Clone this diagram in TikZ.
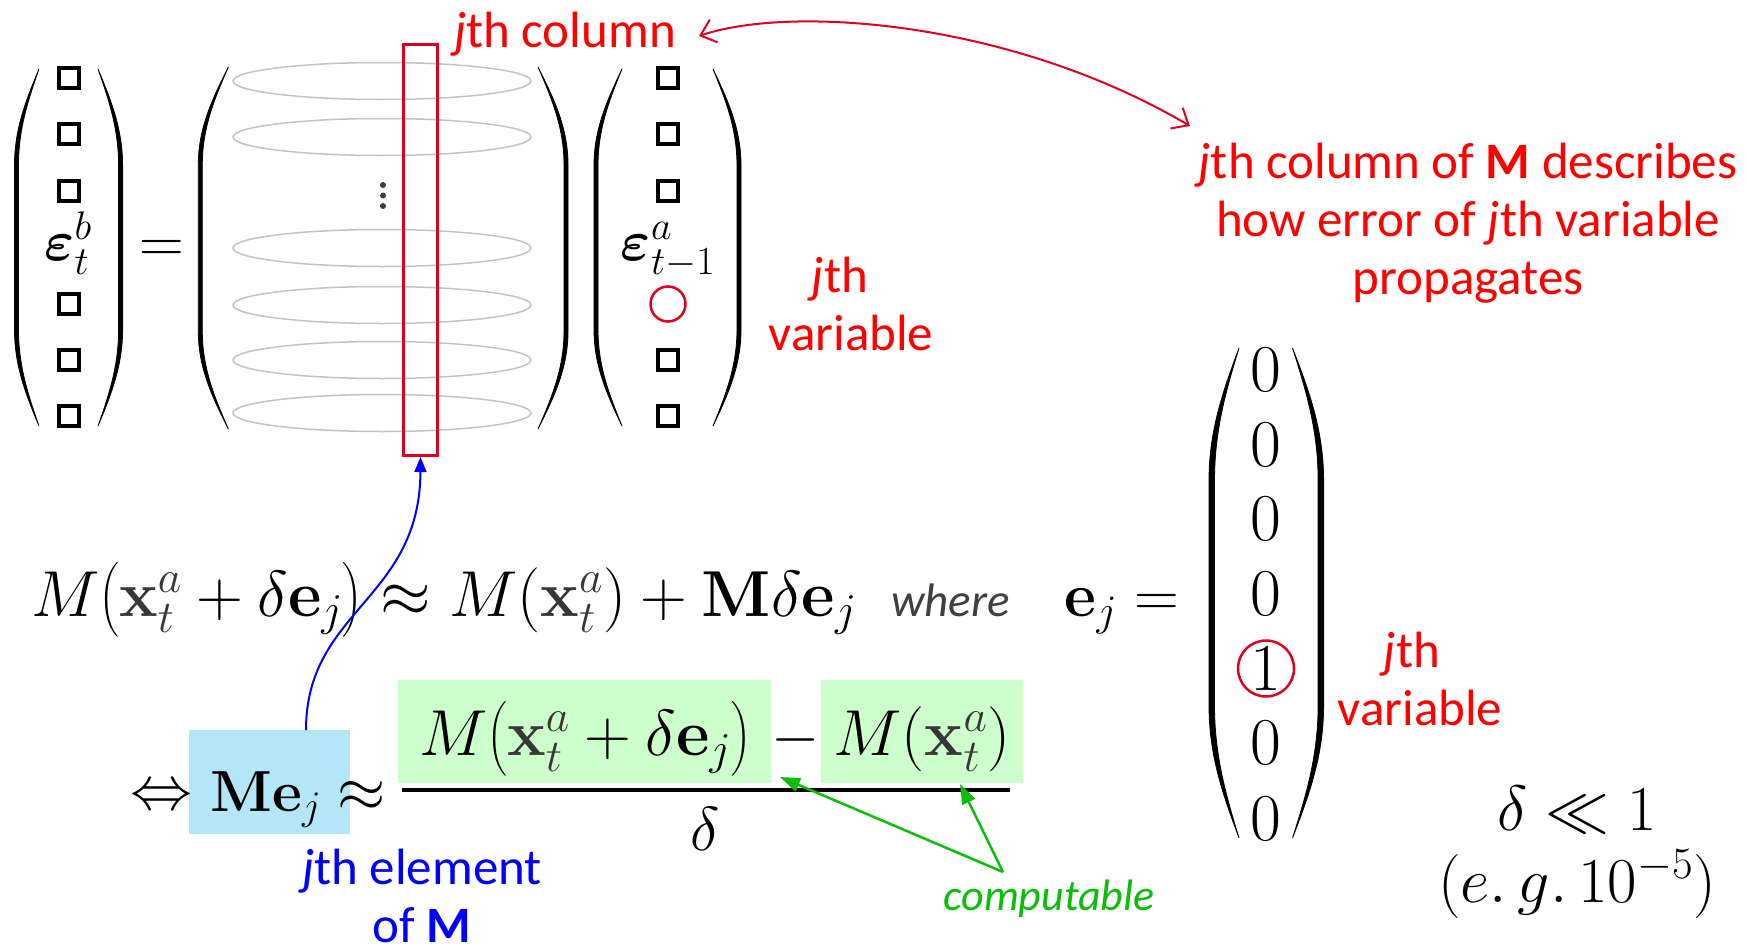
\RequirePackage{fix-cm}
\documentclass[tikz,border=0pt]{standalone}
\usepackage{amsmath}
\usepackage{bm}
\usepackage[no-math]{fontspec}
\setmainfont{Carlito}
\usetikzlibrary{arrows.meta}
\definecolor{myred}{RGB}{222,0,32}
\definecolor{txtred}{RGB}{255,0,0}
\definecolor{myblue}{RGB}{0,0,255}
\definecolor{mygreen}{RGB}{10,190,10}
\definecolor{lgreen}{RGB}{204,255,204}
\definecolor{lblue}{RGB}{179,231,248}
\definecolor{ellgray}{RGB}{195,195,195}
\definecolor{wgray}{RGB}{64,64,64}
\definecolor{dotgray}{RGB}{60,60,60}
\definecolor{xgray}{RGB}{55,55,55}
\newcommand{\xa}{{\color{xgray}\mathbf{x}_t^a}}
% #1 end x, #2 outer middle x, #3 top y, #4 bottom y, #5 signed thickness
\newcommand{\drawparen}[5]{%
\fill[draw, line width=0.8pt]
 (#1,#3) .. controls ({#1+0.55*(#2-#1)},{#3+0.09*(#4-#3)}) and (#2,{#3+0.17*(#4-#3)}) .. (#2,{#3+0.27*(#4-#3)})
 -- (#2,{#4-0.27*(#4-#3)}) .. controls (#2,{#4-0.17*(#4-#3)}) and ({#1+0.55*(#2-#1)},{#4-0.09*(#4-#3)}) .. (#1,#4)
 .. controls ({#1+0.55*(#2+#5-#1)},{#4-0.09*(#4-#3)}) and ({#2+#5},{#4-0.17*(#4-#3)}) .. ({#2+#5},{#4-0.27*(#4-#3)})
 -- ({#2+#5},{#3+0.27*(#4-#3)}) .. controls ({#2+#5},{#3+0.17*(#4-#3)}) and ({#1+0.55*(#2+#5-#1)},{#3+0.09*(#4-#3)}) .. (#1,#3) -- cycle;}
\begin{document}
\begin{tikzpicture}[x=1pt,y=-1pt,
  lbl/.style={font=\fontsize{51}{58}\selectfont, inner sep=0pt, align=center, text=txtred},
  mth/.style={font=\fontsize{62}{72}\selectfont, inner sep=0pt},
  bigmth/.style={font=\fontsize{65}{74}\selectfont, inner sep=0pt},
  epsfont/.style={font=\fontsize{57}{64}\selectfont, inner sep=0pt},
  sq/.style={draw, line width=3.2pt, minimum size=20pt, inner sep=0pt},
  ell/.style={draw=ellgray, line width=1.5pt},
  redmark/.style={draw=myred, line width=2.5pt, circle, inner sep=0pt},
  redarrow/.style={draw=myred, line width=2pt, {Straight Barb[length=14pt,width=24pt]}-{Straight Barb[length=14pt,width=24pt]}},
  bluearrow/.style={draw=myblue, line width=2pt, -{Triangle[length=15pt,width=12pt]}},
  greenarrow/.style={draw=mygreen, line width=2.5pt, -{Triangle[length=20pt,width=14pt]}}]
\useasboundingbox (0,0) rectangle (1747,950);

% ---------- top: left vector ----------
\drawparen{39}{14.5}{69}{426}{4}
\drawparen{98}{122.6}{69}{426}{-4}
\foreach \y [count=\i] in {78,134,191,304,360,416}
  \node[sq] (ls\i) at (69,\y) {};
\node[epsfont, anchor=base] (epsb) at (68,260) {$\bm{\varepsilon}_t^b$};
\node[mth, anchor=base] (eq0) at (161.5,262) {$=$};

% ---------- big matrix ----------
\drawparen{228.4}{198.3}{67}{429}{4}
\drawparen{538}{568}{67}{429}{-4}
\foreach \y in {81,137,248,305,360,413}
  \draw[ell] (382,\y) ellipse [x radius=149pt, y radius=18.5pt];
\foreach \y in {185,195.5,206}
  \fill[dotgray] (383,\y) circle [radius=3pt];
\node[draw=myred, line width=3pt, minimum width=34pt, minimum height=411pt, inner sep=0pt] (col) at (420.5,250) {};

% ---------- right vector ----------
\drawparen{622}{594}{69}{426}{4}
\drawparen{713}{741}{69}{426}{-4}
\foreach \y [count=\i] in {78,134,191,360,416}
  \node[sq] (rs\i) at (668,\y) {};
\node[epsfont, anchor=base] (epsa) at (668,260) {$\bm{\varepsilon}_{t-1}^a$};
\node[redmark, minimum size=35pt] (jvc) at (668,304) {};

% ---------- red labels ----------
\node[lbl, anchor=base] (colbl) at (565,48) {{\itshape j}th column};
\node[lbl] (jvar1) at (851,304) {{\itshape j}th\hspace*{22pt}\\variable};
\node[lbl] (desc) at (1468,223) {{\itshape j}th column of \textbf{M} describes\\how error of {\itshape j}th variable\\propagates};
\coordinate (r1) at (699,36);
\coordinate (r2) at (1190,126);
\draw[redarrow] (r1) .. controls (790,5) and (1010,20) .. (r2);

% ---------- middle equation ----------
\node[bigmth, anchor=base west] (eq1) at (31,616) {$M\bigl(\xa+\delta\mathbf{e}_j\bigr)\approx M(\xa)+\mathbf{M}\delta\mathbf{e}_j$};
\node[font=\fontsize{47}{52}\selectfont\itshape, text=wgray, inner sep=0pt, anchor=base west] (where) at (891,616) {where};
\node[mth, anchor=base] (ejeq) at (1122,616) {$\mathbf{e}_j=$};

% ---------- e_j vector ----------
\drawparen{1239}{1209}{348}{838}{5.5}
\drawparen{1292.5}{1323.6}{348}{838}{-5.5}
\foreach \y/\v [count=\i] in {370/0,444.5/0,519/0,594/0,668.5/1,743/0,819/0}
  \node[mth, font=\fontsize{67}{72}\selectfont] (z\i) at (1266,\y) {$\v$};
\node[redmark, minimum size=56pt] (onec) at (z5) {};
\node[lbl] (jvar2) at (1420,679) {{\itshape j}th\hspace*{16pt}\\variable};

% ---------- bottom equation ----------
\node[fill=lblue, minimum width=161pt, minimum height=104pt, inner sep=0pt] (mbox) at (269.5,782) {};
\node[fill=lgreen, minimum width=373pt, minimum height=103pt, inner sep=0pt] (gbox1) at (584.5,731.5) {};
\node[fill=lgreen, minimum width=202pt, minimum height=103pt, inner sep=0pt] (gbox2) at (922,731.5) {};
\node[mth, anchor=base] (iff) at (161.5,809) {$\Leftrightarrow$};
\node[mth, font=\fontsize{58}{66}\selectfont, anchor=base] (mej) at (266,811) {$\mathbf{M}\mathbf{e}_j$};
\node[mth, anchor=base] (ap2) at (362,811) {$\approx$};
\node[bigmth, anchor=base] (num1) at (585,755) {$M\bigl(\xa+\delta\mathbf{e}_j\bigr)$};
\node[mth, anchor=base] (minus) at (796,755) {$-$};
\node[bigmth, anchor=base] (num2) at (922,755) {$M(\xa)$};
\coordinate (fl) at (402,790);
\coordinate (fr) at (1010,790);
\draw[line width=4pt] (fl) -- (fr);
\node[mth, anchor=base] (den) at (705,850) {$\delta$};

\node[mth, font=\fontsize{64}{70}\selectfont, anchor=base] (dll) at (1577,830) {$\delta\ll 1$};
\node[mth, font=\fontsize{64}{70}\selectfont, anchor=base] (eg) at (1577,902) {$(e.\,g.\,10^{-5})$};

% ---------- blue annotation ----------
\node[lbl, text=myblue] (elem) at (422,896) {{\itshape j}th element\\of \textbf{M}};
\coordinate (bstart) at (306,730);
\draw[bluearrow] (bstart) .. controls (306,610) and (420,600) .. (col.south);

% ---------- green annotation ----------
\node[font=\fontsize{44}{50}\selectfont\itshape, text=mygreen, inner sep=0pt, anchor=base] (comp) at (1049,910) {computable};
\coordinate (gsrc) at (1003,872);
\coordinate (g1) at (780,777);
\coordinate (g2) at (960,784);
\draw[greenarrow] (gsrc) -- (g1);
\draw[greenarrow] (gsrc) -- (g2);
\end{tikzpicture}
\end{document}
